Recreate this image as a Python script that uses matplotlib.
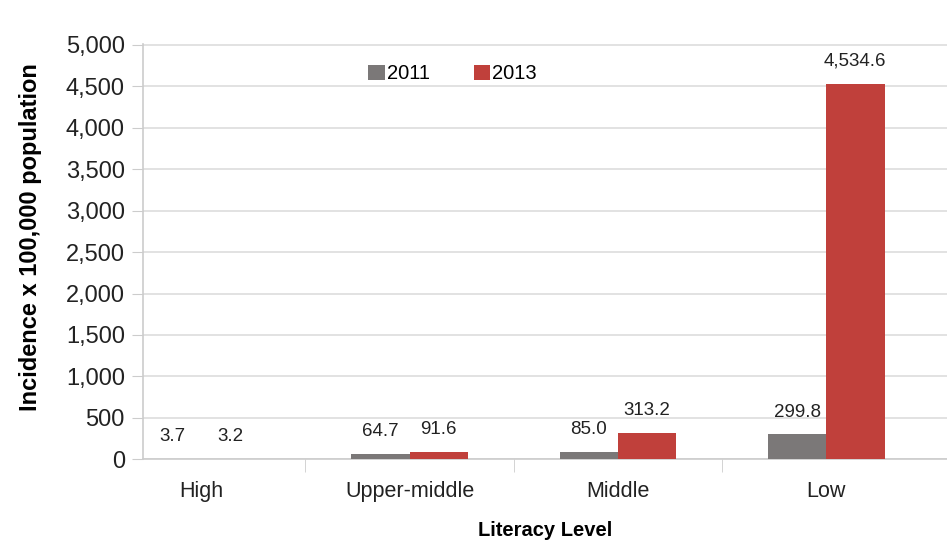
import matplotlib.pyplot as plt
import numpy as np
from matplotlib.ticker import FuncFormatter

plt.rcParams['font.family'] = ['Liberation Sans', 'DejaVu Sans']

# 数据
levels = ['High', 'Upper-middle', 'Middle', 'Low']
years = ['2011', '2013']
inc_2011 = [3.7, 64.7, 85.0, 299.8]
inc_2013 = [3.2, 91.6, 313.2, 4534.6]
colors = ['#7b7878', '#c0403b']

fig = plt.figure(figsize=(9.47, 5.52), dpi=100)
ax = fig.add_axes([0.151, 0.168, 0.849, 0.752])

x = np.arange(len(levels))
w = 0.28
b1 = ax.bar(x - w / 2, inc_2011, w, color=colors[0], label=years[0], zorder=3)
b2 = ax.bar(x + w / 2, inc_2013, w, color=colors[1], label=years[1], zorder=3)

# 数据标签
for bars, vals in ((b1, inc_2011), (b2, inc_2013)):
    for r, v in zip(bars, vals):
        ax.annotate('{:,.1f}'.format(v), (r.get_x() + r.get_width() / 2, max(v, 0)),
                    xytext=(0, 10), textcoords='offset points', ha='center', va='bottom',
                    fontsize=13.5, color='#222222')

# 坐标轴设置
ax.set_ylim(0, 5010)
ax.set_xlim(-0.28, 3.58)
ax.set_yticks(np.arange(0, 5001, 500))
ax.yaxis.set_major_formatter(FuncFormatter(lambda v, p: '{:,.0f}'.format(v)))
ax.tick_params(axis='y', labelsize=17, length=8, color='#cccccc', pad=5, labelcolor='#222222')
ax.set_xticks(x)
ax.set_xticklabels(levels)
ax.set_xticks([0.5, 1.5, 2.5], minor=True)
ax.tick_params(axis='x', which='major', length=0, labelsize=15.5, pad=16, labelcolor='#222222')
ax.tick_params(axis='x', which='minor', length=9, color='#cccccc')
ax.grid(axis='y', color='#dddddd', linewidth=1.2, zorder=0)
for s in ['top', 'right']:
    ax.spines[s].set_visible(False)
ax.spines['left'].set_color('#cccccc')
ax.spines['bottom'].set_color('#cccccc')
ax.spines['left'].set_linewidth(1.2)
ax.spines['bottom'].set_linewidth(1.2)

ax.set_ylabel('Incidence x 100,000 population', fontsize=17, fontweight='bold')
ax.yaxis.set_label_coords(-0.125, 0.535)
ax.set_xlabel('Literacy Level', fontsize=14.5, fontweight='bold', labelpad=13)

ax.legend(loc='upper center', bbox_to_anchor=(0.385, 0.995), ncol=2, frameon=False,
          fontsize=14.5, handlelength=0.8, handleheight=0.8, handletextpad=0.1, columnspacing=2.2)

plt.savefig('out.png')
